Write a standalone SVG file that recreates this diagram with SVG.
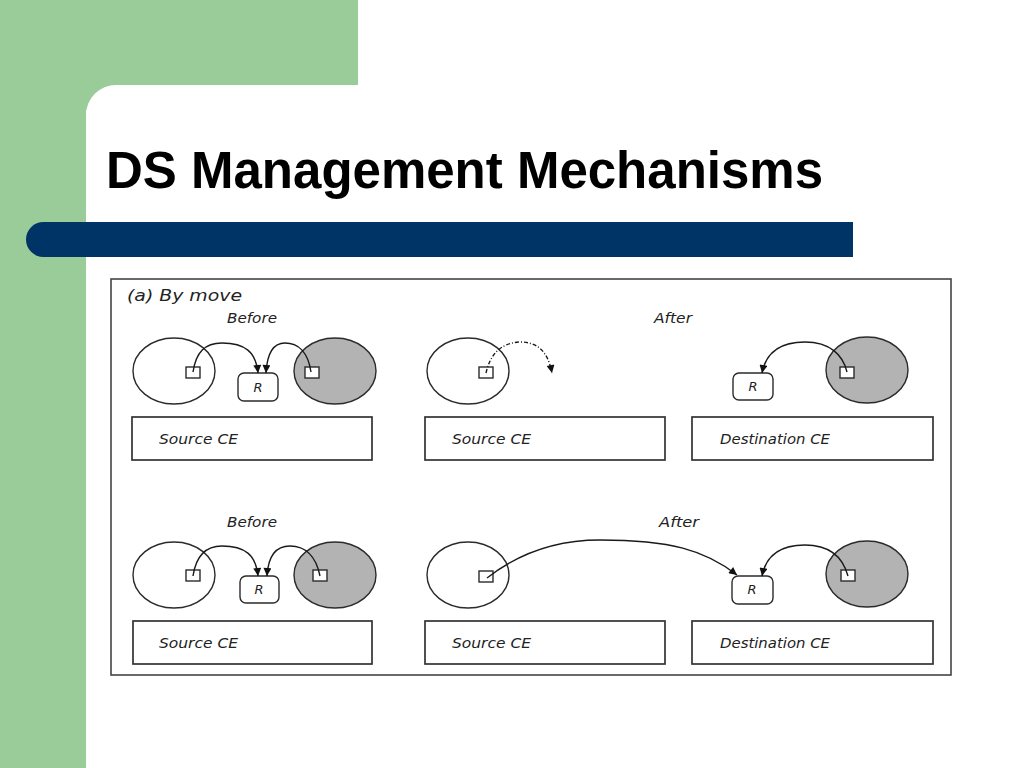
<svg xmlns="http://www.w3.org/2000/svg" width="1024" height="768" viewBox="0 0 1024 768">
<style>
.ln{fill:none;stroke:#2b2b2b;stroke-width:1.4}
.wh{fill:#ffffff;stroke:#2b2b2b;stroke-width:1.4}
.gr{fill:#b3b3b3;stroke:#2b2b2b;stroke-width:1.4}
.box{fill:#ffffff;stroke:#333333;stroke-width:1.7}
.t{font-family:"DejaVu Sans","Liberation Sans",sans-serif;font-style:italic;fill:#222222}
.arr{fill:none;stroke:#1a1a1a;stroke-width:1.4;marker-end:url(#ah)}
</style>
<defs>
<marker id="ah" viewBox="0 0 10 10" refX="10" refY="5" markerWidth="10" markerHeight="8" markerUnits="userSpaceOnUse" orient="auto">
<path d="M0,0 L10,5 L0,10 Z" fill="#111111"/>
</marker>
</defs>
<rect x="0" y="0" width="1024" height="768" fill="#ffffff"/>
<rect x="0" y="0" width="358" height="110" fill="#99cc99"/>
<rect x="0" y="0" width="86" height="768" fill="#99cc99"/>
<rect x="86" y="85" width="1000" height="760" rx="30" ry="30" fill="#ffffff"/>
<path d="M43.5,222 H853 V257 H43.5 A17.5,17.5 0 0 1 43.5,222 Z" fill="#003366"/>
<text x="106" y="188" font-family="Liberation Sans, Arial, sans-serif" font-weight="bold" font-size="51" fill="#000000">DS Management Mechanisms</text>

<g id="frame"><rect x="111" y="279" width="840" height="396" fill="#ffffff" stroke="#444444" stroke-width="1.6"/></g>
<text class="t" x="127" y="301" font-size="16" textLength="115" lengthAdjust="spacingAndGlyphs">(a) By move</text>
<text class="t" x="227" y="323" font-size="14" textLength="50" lengthAdjust="spacingAndGlyphs">Before</text>
<text class="t" x="654" y="323" font-size="14" textLength="38" lengthAdjust="spacingAndGlyphs">After</text>
<text class="t" x="227" y="527" font-size="14" textLength="50" lengthAdjust="spacingAndGlyphs">Before</text>
<text class="t" x="659" y="527" font-size="14" textLength="40" lengthAdjust="spacingAndGlyphs">After</text>

<!-- top row -->
<g id="top-before-source-ce"><rect class="box" x="132" y="417" width="240" height="43"/><text class="t" x="159" y="444" font-size="14" textLength="79" lengthAdjust="spacingAndGlyphs">Source CE</text></g>
<g id="top-before-src-circle"><ellipse class="wh" cx="174" cy="371" rx="41" ry="33"/><rect class="wh" x="186" y="367" width="14" height="11"/></g>
<g id="top-before-dst-circle"><ellipse class="gr" cx="335" cy="371" rx="41" ry="33"/><rect class="wh" x="305" y="367" width="14" height="11"/></g>
<g id="top-before-r"><rect class="wh" x="238" y="373" width="40" height="28" rx="6"/><text class="t" x="258" y="392" font-size="13" text-anchor="middle">R</text></g>

<g id="top-after-source-ce"><rect class="box" x="425" y="417" width="240" height="43"/><text class="t" x="452" y="444" font-size="14" textLength="79" lengthAdjust="spacingAndGlyphs">Source CE</text></g>
<g id="top-after-src-circle"><ellipse class="wh" cx="468" cy="371" rx="41" ry="33"/><rect class="wh" x="479" y="367" width="14" height="11"/></g>

<g id="top-after-dest-ce"><rect class="box" x="692" y="417" width="241" height="43"/><text class="t" x="720" y="444" font-size="14" textLength="110" lengthAdjust="spacingAndGlyphs">Destination CE</text></g>
<g id="top-after-dst-circle"><ellipse class="gr" cx="867" cy="370" rx="41" ry="33"/><rect class="wh" x="840" y="367" width="14" height="11"/></g>
<g id="top-after-r"><rect class="wh" x="733" y="373" width="40" height="27" rx="6"/><text class="t" x="753" y="391" font-size="13" text-anchor="middle">R</text></g>

<!-- bottom row -->
<g id="bot-before-source-ce"><rect class="box" x="133" y="621" width="239" height="43"/><text class="t" x="159" y="648" font-size="14" textLength="79" lengthAdjust="spacingAndGlyphs">Source CE</text></g>
<g id="bot-before-src-circle"><ellipse class="wh" cx="174" cy="575" rx="41" ry="33"/><rect class="wh" x="186" y="570" width="14" height="11"/></g>
<g id="bot-before-dst-circle"><ellipse class="gr" cx="335" cy="575" rx="41" ry="33"/><rect class="wh" x="313" y="570" width="14" height="11"/></g>
<g id="bot-before-r"><rect class="wh" x="240" y="576" width="39" height="27" rx="6"/><text class="t" x="259" y="594" font-size="13" text-anchor="middle">R</text></g>

<g id="bot-after-source-ce"><rect class="box" x="425" y="621" width="240" height="43"/><text class="t" x="452" y="648" font-size="14" textLength="79" lengthAdjust="spacingAndGlyphs">Source CE</text></g>
<g id="bot-after-src-circle"><ellipse class="wh" cx="468" cy="575" rx="41" ry="33"/><rect class="wh" x="479" y="571" width="14" height="11"/></g>

<g id="bot-after-dest-ce"><rect class="box" x="692" y="621" width="241" height="43"/><text class="t" x="720" y="648" font-size="14" textLength="110" lengthAdjust="spacingAndGlyphs">Destination CE</text></g>
<g id="bot-after-dst-circle"><ellipse class="gr" cx="867" cy="574" rx="41" ry="33"/><rect class="wh" x="841" y="570" width="14" height="11"/></g>
<g id="bot-after-r"><rect class="wh" x="732" y="576" width="41" height="28" rx="6"/><text class="t" x="752" y="594" font-size="13" text-anchor="middle">R</text></g>

<g id="connectors">
<path class="arr" d="M193,372 C196,352 205,343 222,343 C245,343 256,352 258,373"/>
<path class="arr" d="M311,372 C308,352 298,343 285,343 C272,343 267,355 266,373"/>
<path class="arr" d="M486,373 C490,355 500,343 520,342 C538,342 548,352 552,373" stroke-dasharray="4 2 1 2"/>
<path class="arr" d="M847,372 C843,355 830,342 805,342 C780,342 766,352 762,373"/>
<path class="arr" d="M193,576 C196,556 205,546 222,546 C245,546 256,555 258,576"/>
<path class="arr" d="M320,576 C316,556 305,546 290,546 C275,546 268,558 267,576"/>
<path class="arr" d="M487,578 C510,560 545,540 600,540 C670,540 705,550 737,575"/>
<path class="arr" d="M848,576 C843,558 830,545 805,545 C780,545 766,555 762,576"/>
</g>
</svg>
